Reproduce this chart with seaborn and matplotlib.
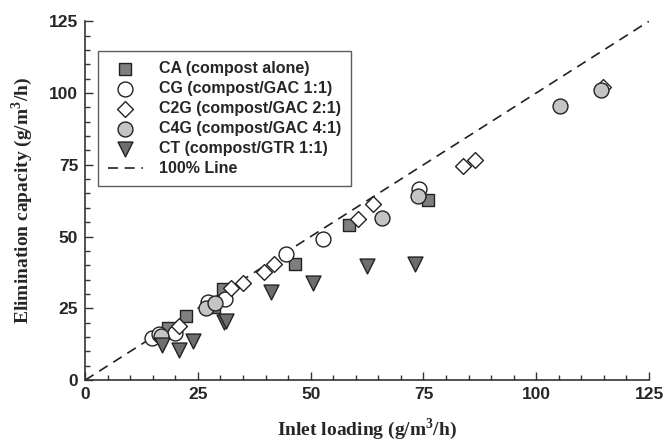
import matplotlib
matplotlib.use("Agg")
import matplotlib.pyplot as plt
import seaborn as sns
import pandas as pd
from matplotlib.ticker import MultipleLocator

# ---- data ----
ca_x = [18.3, 22.4, 28.5, 30.5, 46.5, 58.6, 76.1]
ca_y = [18.2, 22.5, 25.5, 31.6, 40.4, 54.0, 62.7]

cg_x = [14.9, 16.3, 20.0, 27.3, 31.0, 44.6, 52.8, 73.9]
cg_y = [14.8, 16.2, 16.5, 27.3, 28.4, 43.9, 49.1, 66.7]

c2g_x = [20.9, 32.4, 35.0, 39.6, 41.8, 60.4, 63.9, 83.7, 86.4, 114.8]
c2g_y = [18.8, 32.0, 34.0, 37.5, 40.3, 56.0, 61.3, 74.5, 76.8, 102.0]

c4g_x = [16.8, 26.8, 28.9, 65.9, 73.7, 105.3, 114.3]
c4g_y = [15.4, 25.0, 27.0, 56.3, 64.2, 95.5, 101.2]

ct_x = [17.0, 20.7, 24.0, 30.7, 31.3, 41.2, 50.6, 62.5, 73.2]
ct_y = [12.3, 10.6, 13.6, 20.4, 20.7, 30.7, 33.9, 39.7, 40.6]

line_x = [0, 125]
line_y = [0, 125]

series = [
    ("CA (compost alone)", ca_x, ca_y, "s", "#7f7f7f", 80),
    ("CG (compost/GAC 1:1)", cg_x, cg_y, "o", "white", 115),
    ("C2G (compost/GAC 2:1)", c2g_x, c2g_y, "D", "white", 65),
    ("C4G (compost/GAC 4:1)", c4g_x, c4g_y, "o", "#c4c4c4", 115),
    ("CT (compost/GTR 1:1)", ct_x, ct_y, "v", "#6e6e6e", 115),
]

sns.set_style("ticks")
plt.rcParams["mathtext.fontset"] = "custom"
plt.rcParams["mathtext.rm"] = "Liberation Serif:bold"
plt.rcParams["mathtext.bf"] = "Liberation Serif:bold"

fig = plt.figure(figsize=(6.65, 4.41), dpi=100)
ax = fig.add_axes([0.128, 0.138, 0.848, 0.814])

for label, xs, ys, mk, fc, sz in series:
    df = pd.DataFrame({"x": xs, "y": ys})
    sns.scatterplot(data=df, x="x", y="y", marker=mk, color=fc, s=sz,
                    edgecolor="#222222", linewidth=1.0, ax=ax, label=label,
                    zorder=3)

ldf = pd.DataFrame({"x": line_x, "y": line_y})
sns.lineplot(data=ldf, x="x", y="y", color="#222222", linewidth=1.2,
             dashes=False, ax=ax, label="100% Line", zorder=2)
ax.lines[-1].set_dashes([6, 4])

ax.set_xlim(0, 125)
ax.set_ylim(0, 125)
ax.xaxis.set_major_locator(MultipleLocator(25))
ax.yaxis.set_major_locator(MultipleLocator(25))
ax.xaxis.set_minor_locator(MultipleLocator(5))
ax.yaxis.set_minor_locator(MultipleLocator(5))
ax.tick_params(which="major", direction="in", length=6, width=1, color="#333333", pad=5)
ax.tick_params(which="minor", direction="in", length=3.5, width=1, color="#333333")
for s in ["top", "right"]:
    ax.spines[s].set_visible(False)
for s in ["left", "bottom"]:
    ax.spines[s].set_color("#333333")
    ax.spines[s].set_linewidth(1.2)

for lab in ax.get_xticklabels() + ax.get_yticklabels():
    lab.set_fontfamily("Liberation Sans")
    lab.set_fontweight("bold")
    lab.set_fontsize(12.5)

ax.set_xlabel("Inlet loading (g/m$^{3}$/h)", family="Liberation Serif",
              fontweight="bold", fontsize=14, labelpad=10)
ax.set_ylabel("Elimination capacity (g/m$^{3}$/h)", family="Liberation Serif",
              fontweight="bold", fontsize=14, labelpad=10)

leg = ax.legend(loc="upper left", bbox_to_anchor=(0.023, 0.916),
                frameon=True, fancybox=False, shadow=False,
                prop={"family": "Liberation Sans", "weight": "bold", "size": 11.5},
                handlelength=2.2, labelspacing=0.32, borderpad=0.6,
                handletextpad=1.0, borderaxespad=0)
leg.get_frame().set_edgecolor("#333333")
leg.get_frame().set_linewidth(1.0)

fig.savefig("out.png", dpi=100)
